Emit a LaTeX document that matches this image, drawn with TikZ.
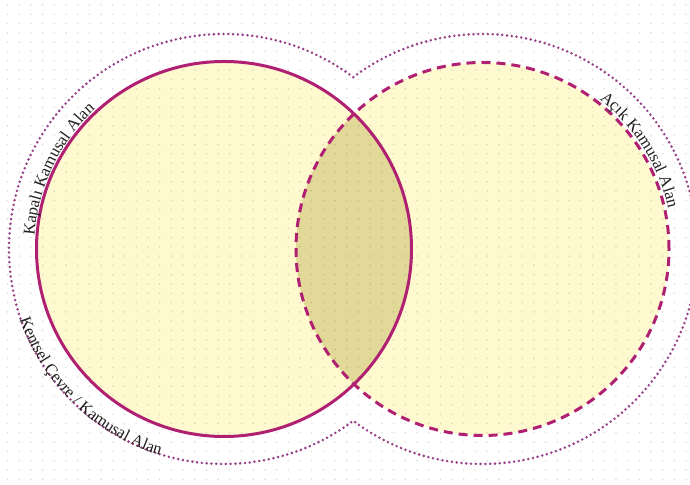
\documentclass[tikz,border=0pt]{standalone}
\usepackage{fontspec}
\setmainfont{Liberation Serif}
\usetikzlibrary{decorations.text}

\definecolor{vennline}{RGB}{176,32,114}
\definecolor{venndot}{RGB}{150,62,135}
\definecolor{vennfill}{RGB}{254,249,206}
\definecolor{vennlens}{RGB}{226,216,152}
\definecolor{venntext}{RGB}{35,30,30}
\newcommand\vennfont{\fontsize{8.3}{9}\selectfont}

\begin{document}
\begin{tikzpicture}[x=0.5pt,y=0.5pt,
  gdot/.style={fill=black,opacity=0.13},
  ring/.style={draw=vennline,line width=1.5pt},
  border/.style={draw=venndot,line width=1.4pt,line cap=round,dash pattern=on 0pt off 2.4pt},
  lbl/.style={decorate,decoration={text along path,text align=left,
    text color=venntext,text={|\vennfont|#1}}}]

  \useasboundingbox (0,0) rectangle (690,485);
  \coordinate (L) at (224,236);
  \coordinate (R) at (482.5,236);

  \fill[vennfill] (L) circle[radius=187.5];
  \fill[vennfill] (R) circle[radius=186.5];
  \begin{scope}
    \clip (L) circle[radius=187.5];
    \fill[vennlens] (R) circle[radius=186.5];
  \end{scope}

  \foreach \i in {0,...,58}
    \foreach \j in {0,...,52}
      \fill[gdot] (7.5+\i*11.7,480-\j*9.3) circle[radius=0.9];

  \draw[border] (L) ++(53.05:215) arc[start angle=53.05,end angle=306.95,radius=215]
    arc[start angle=233.05,end angle=486.95,radius=215];

  \draw[ring,dash pattern=on 4.5pt off 3pt] (R) circle[radius=186.5];
  \draw[ring] (L) circle[radius=187.5];

  \path[lbl={Kapalı Kamusal Alan}] (L) ++(176:190) arc[start angle=176,end angle=120,radius=190];
  \path[lbl={Açık Kamusal Alan}] (R) ++(52:190) arc[start angle=52,end angle=0,radius=190];
  \path[lbl={Kentsel Çevre / Kamusal Alan}] (L) ++(199:216) arc[start angle=199,end angle=265,radius=216];
\end{tikzpicture}
\end{document}
